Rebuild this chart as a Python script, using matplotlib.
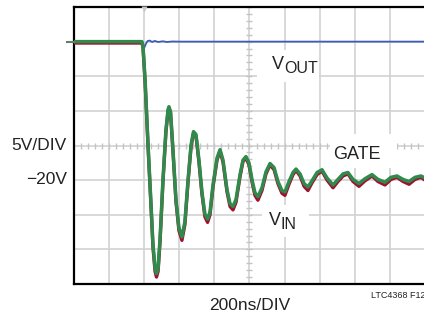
import numpy as np
import matplotlib
matplotlib.use("Agg")
import matplotlib.pyplot as plt
from matplotlib.patches import Rectangle
from matplotlib.transforms import offset_copy

plt.rcParams['font.family'] = ['Liberation Sans Narrow', 'Liberation Sans', 'DejaVu Sans']

# Осциллограмма: 200 нс/дел, 5 В/дел, 0 В на первой линии сверху
time_per_div = 200   # нс
volt_per_div = 5     # В
n_xdiv, n_ydiv = 10, 8
v_top = 5
trigger_t = 400

# GATE (зелёный) и VIN (красный): время, нс; напряжение, В
gate_t = [0, 387, 393, 405, 422, 439, 450, 462, 470, 479, 490, 507, 524, 536, 541,
          550, 564, 581, 598, 615, 632, 650, 667, 681, 695, 712, 729, 746, 761, 775,
          792, 815, 832, 849, 872, 889, 906, 923, 946, 963, 980, 997, 1014, 1031, 1048,
          1071, 1094, 1117, 1140, 1162, 1185, 1202, 1225, 1248, 1265, 1288, 1311, 1333,
          1356, 1385, 1413, 1442, 1476, 1504, 1533, 1561, 1590, 1624, 1658, 1698, 1732,
          1772, 1806, 1840, 1875, 1909, 1943, 1977, 2000]
gate_v = [0, 0, -0.6, -5.5, -14.9, -23.6, -29.3, -32.7, -33.5, -32.7, -28.6, -19.9,
          -12.7, -9.8, -9.4, -10.1, -15.6, -22.8, -26.9, -28.2, -26.0, -19.9, -14.9,
          -13.0, -13.4, -17.1, -21.7, -24.9, -25.6, -24.6, -20.7, -16.8, -15.6, -17.1,
          -21.4, -23.4, -23.8, -22.8, -19.2, -17.1, -16.6, -17.5, -19.9, -21.8, -22.4,
          -21.1, -18.8, -17.6, -18.2, -20.2, -21.5, -21.7, -20.2, -18.9, -18.4, -19.1,
          -20.5, -21.0, -20.1, -18.9, -18.5, -19.7, -20.7, -19.9, -19.1, -18.9, -19.9,
          -20.5, -19.8, -19.2, -19.9, -20.3, -19.6, -19.4, -19.9, -20.2, -19.6, -19.4,
          -19.7]
vin_v = [-0.2, -0.2, -0.8, -5.8, -15.2, -23.9, -29.7, -33.2, -34.0, -33.2, -29.0, -20.2,
         -13.0, -10.0, -9.6, -10.3, -15.9, -23.1, -27.3, -28.7, -26.4, -20.2, -15.2,
         -13.2, -13.6, -17.4, -22.0, -25.3, -26.1, -25.0, -21.0, -17.1, -15.8, -17.4,
         -21.7, -23.8, -24.3, -23.2, -19.5, -17.3, -16.8, -17.8, -20.2, -22.2, -22.9,
         -21.5, -19.1, -17.8, -18.5, -20.5, -21.9, -22.2, -20.6, -19.2, -18.6, -19.4,
         -20.9, -21.5, -20.4, -19.2, -18.7, -20.0, -21.1, -20.2, -19.4, -19.1, -20.2,
         -20.9, -20.1, -19.4, -20.2, -20.7, -19.9, -19.6, -20.2, -20.6, -19.9, -19.6,
         -20.0]

# VOUT (синий)
vout_t = [387, 395, 400, 405, 412, 420, 432, 445, 460, 480, 505, 530, 560, 600, 700, 2000]
vout_v = [0, -0.5, -0.9, -0.6, -0.2, 0.1, 0.15, -0.05, 0.1, -0.05, 0.05, -0.05, 0.02, 0, 0, 0]

W, H = 424, 314
fig = plt.figure(figsize=(W / 100, H / 100), dpi=100)
ax = fig.add_axes([74 / W, 30 / H, 351 / W, 277 / H])

t_max = n_xdiv * time_per_div
v_bot = v_top - n_ydiv * volt_per_div
ax.set_xlim(0, t_max)
ax.set_ylim(v_bot, v_top)
ax.set_xticks([])
ax.set_yticks([])
for s in ['left', 'bottom', 'top']:
    ax.spines[s].set_linewidth(1.6)
    ax.spines[s].set_color('black')
ax.spines['right'].set_visible(False)

grid_c = '#d2d2d2'
for xv in np.arange(1, n_xdiv) * time_per_div:
    ax.axvline(xv, color=grid_c, lw=1.2, zorder=0.5)
for yv in v_top - np.arange(1, n_ydiv) * volt_per_div:
    ax.axhline(yv, color=grid_c, lw=1.2, zorder=0.5)

# центральные линии с мелкими делениями
x_mid = t_max / 2
y_mid = v_top - n_ydiv / 2 * volt_per_div
ax.plot(np.arange(0, t_max + 1, time_per_div / 5), np.full(int(t_max / (time_per_div / 5)) + 1, y_mid),
        ls='none', marker='|', ms=5, mew=1.0, color='#c4c4c4', zorder=0.6)
ax.plot(np.full(n_ydiv * 5 + 1, x_mid), np.arange(v_bot, v_top + 0.01, volt_per_div / 5),
        ls='none', marker='_', ms=5, mew=1.0, color='#c4c4c4', zorder=0.6)

# маркеры нуля и запуска
ax.plot([-40, 0], [0, 0], color='#5f7f6c', lw=1.5, clip_on=False, zorder=5)
ax.plot([trigger_t], [v_top - 0.35], marker='v', ms=5, color='#c8c8c8', mec='none',
        clip_on=False, zorder=5)

ax.plot(gate_t, vin_v, color='#a01030', lw=2.4, zorder=4, solid_joinstyle='round')
ax.plot(vout_t, vout_v, color='#3b5db5', lw=1.3, zorder=4.5)
ax.plot(gate_t, gate_v, color='#2f8a4c', lw=2.5, zorder=4.6, solid_joinstyle='round')

txt_c = '#222222'

# белые подложки под подписи (разрывают сетку)
for (t0, t1, v0, v1) in [(1043, 1396, -5.8, -1.2), (1071, 1339, -28.2, -23.6),
                         (1459, 1840, -18.3, -13.4)]:
    ax.add_patch(Rectangle((t0, v0), t1 - t0, v1 - v0, fc='white', ec='none', zorder=0.8))


def sub_label(x, y, main, sub, dx, dy):
    ax.text(x, y, main, ha='left', va='center', fontsize=13, color=txt_c, zorder=3)
    ax.text(x, y, sub, ha='left', va='center', fontsize=11.5, color=txt_c, zorder=3,
            transform=offset_copy(ax.transData, fig=fig, x=dx, y=dy, units='dots'))


sub_label(1128, -3.3, 'V', 'OUT', 12, -4)
sub_label(1111, -25.9, 'V', 'IN', 12, -4)
ax.text(1613, -16.3, 'GATE', ha='center', va='center', fontsize=13, color=txt_c, zorder=3)

fig.text(67 / W, 1 - 146 / H, '5V/DIV', ha='right', va='center', fontsize=12.5, color=txt_c)
fig.text(67 / W, 1 - 180 / H, '\u221220V', ha='right', va='center', fontsize=12.5, color=txt_c)
fig.text(250 / W, 1 - 306 / H, '200ns/DIV', ha='center', va='center', fontsize=12.5, color=txt_c)
fig.text(371 / W, 1 - 296 / H, 'LTC4368 F12', ha='left', va='center', fontsize=6.5, color=txt_c)

fig.savefig('out.png', dpi=100)
